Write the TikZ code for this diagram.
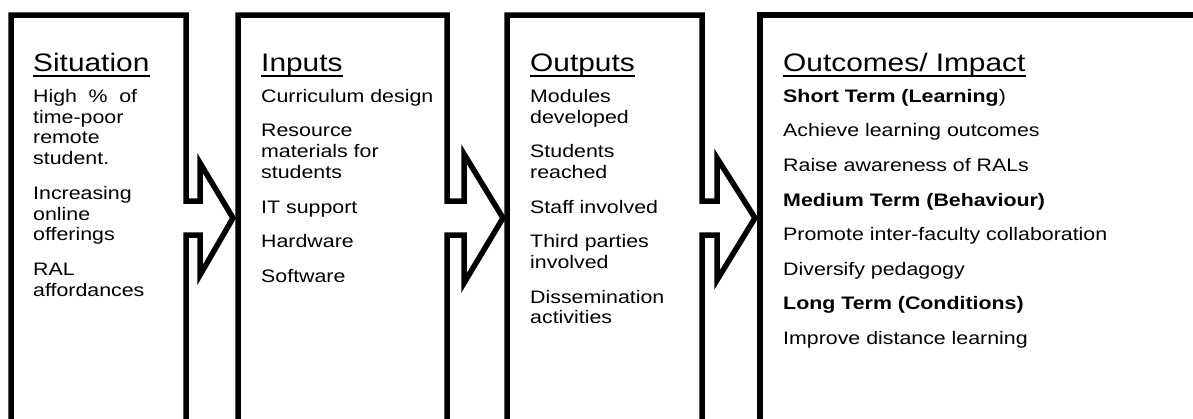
\documentclass[tikz,border=0pt]{standalone}
\usepackage{fontspec}
\setmainfont{Liberation Sans}[FakeStretch=1.18]

\begin{document}
\begin{tikzpicture}[x=1pt,y=-1pt]
    \pgfmathsetmacro{\framewidth}{5.5}
    \pgfmathsetmacro{\frametop}{15}
    \pgfmathsetmacro{\framebottom}{440}
    \pgfmathsetmacro{\shafttop}{201}
    \pgfmathsetmacro{\shaftbottom}{235}
    \pgfmathsetmacro{\tipy}{218}
    \pgfmathsetmacro{\parskipamount}{13.8}
    \pgfmathsetmacro{\headbase}{71}
    \pgfmathsetmacro{\bodytop}{102-0.7*20.8}
    \providecommand{\headfontsize}{\fontsize{25.3}{30}\selectfont}
    \providecommand{\bodyfontsize}{\fontsize{18.1}{20.8}\selectfont}
    \tikzset{
        frame/.style={line width=\framewidth pt},
        heading/.style={anchor=base west,inner sep=0,font=\headfontsize},
        headrule/.style={line width=1.8pt},
        body/.style={anchor=north west,inner sep=0,align=left,font=\bodyfontsize},
    }
    \useasboundingbox (0,0) rectangle (1193,418);
    \clip (0,0) rectangle (1193,418);
    % the four columns, each one pushing an arrow into the next
    \draw[frame] (11,\framebottom) -- (11,\frametop) -- (186,\frametop) -- (186,\shafttop) -- (200,\shafttop) -- (200,163) -- (233,\tipy) -- (200,275) -- (200,\shaftbottom) -- (186,\shaftbottom) -- (186,\framebottom);
    \draw[frame] (238,\framebottom) -- (238,\frametop) -- (447,\frametop) -- (447,\shafttop) -- (464,\shafttop) -- (464,154) -- (503,\tipy) -- (464,283) -- (464,\shaftbottom) -- (447,\shaftbottom) -- (447,\framebottom);
    \draw[frame] (507,\framebottom) -- (507,\frametop) -- (702,\frametop) -- (702,\shafttop) -- (717,\shafttop) -- (717,158) -- (755,\tipy) -- (717,280) -- (717,\shaftbottom) -- (702,\shaftbottom) -- (702,\framebottom);
    \draw[frame] (760,\framebottom) -- (760,\frametop) -- (1210,\frametop);

    % headings
    \node[heading] (situation) at (33,\headbase) {Situation};
    \node[heading] (inputs) at (261,\headbase) {Inputs};
    \node[heading] (outputs) at (530,\headbase) {Outputs};
    \node[heading] (outcomes) at (783,\headbase) {Outcomes/ Impact};
    \foreach \h in {situation,inputs,outputs,outcomes}
        \draw[headrule] ([yshift=-5pt]\h.base west) -- ([yshift=-5pt]\h.base east);

    % column texts
    \node[body] (situationlist) at (33,\bodytop) {
        \hbox to 104pt{\strut High\hfill\%\hfill of}\\ time-poor\\ remote\\ student.\\[\parskipamount pt]
        Increasing\\ online\\ offerings\\[\parskipamount pt]
        RAL\\ affordances};
    \node[body] (inputslist) at (261,\bodytop) {
        \strut Curriculum design\\[\parskipamount pt]
        Resource\\ materials for\\ students\\[\parskipamount pt]
        IT support\\[\parskipamount pt]
        Hardware\\[\parskipamount pt]
        Software};
    \node[body] (outputslist) at (530,\bodytop) {
        \strut Modules\\ developed\\[\parskipamount pt]
        Students\\ reached\\[\parskipamount pt]
        Staff involved\\[\parskipamount pt]
        Third parties\\ involved\\[\parskipamount pt]
        Dissemination\\ activities};
    \node[body] (outcomeslist) at (783,\bodytop) {
        \strut\textbf{Short Term (Learning})\\[\parskipamount pt]
        Achieve learning outcomes\\[\parskipamount pt]
        Raise awareness of RALs\\[\parskipamount pt]
        \textbf{Medium Term (Behaviour)}\\[\parskipamount pt]
        Promote inter-faculty collaboration\\[\parskipamount pt]
        Diversify pedagogy\\[\parskipamount pt]
        \textbf{Long Term (Conditions)}\\[\parskipamount pt]
        Improve distance learning};
\end{tikzpicture}
\end{document}
